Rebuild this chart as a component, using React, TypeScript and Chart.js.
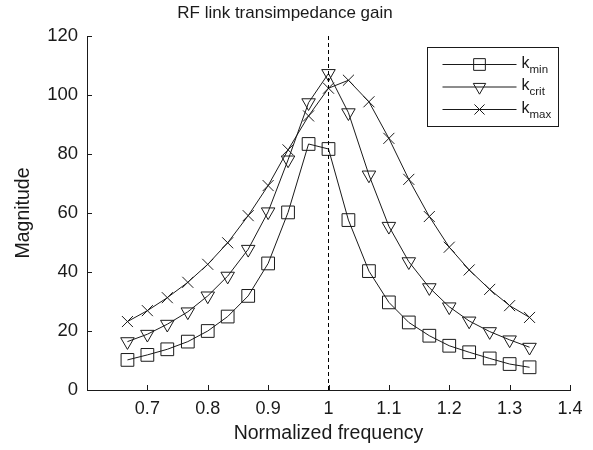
import React, { useEffect, useRef } from 'react';
import { Chart, registerables } from 'chart.js';

Chart.register(...registerables);

const FONT = '"Liberation Sans", Arial, sans-serif';
const INK = '#1a1a1a';

const titleText = 'RF link transimpedance gain';
const xTitle = 'Normalized frequency';
const yTitle = 'Magnitude';

const freq = [0.667, 0.7, 0.733, 0.767, 0.8, 0.833, 0.867, 0.9, 0.933, 0.967, 1.0, 1.033, 1.067, 1.1, 1.133, 1.167, 1.2, 1.233, 1.267, 1.3, 1.333];
const kMin = [10.2, 11.9, 13.8, 16.4, 20.0, 24.9, 31.9, 42.9, 60.2, 83.4, 81.7, 57.6, 40.3, 29.7, 22.9, 18.4, 15.0, 12.8, 10.7, 8.8, 7.7];
const kCrit = [16.4, 18.9, 22.3, 26.5, 31.9, 38.6, 47.7, 60.4, 78.0, 97.4, 107.3, 94.0, 72.9, 55.5, 43.5, 34.7, 28.2, 23.4, 19.8, 17.0, 14.5];
const kMax = [23.2, 26.9, 31.3, 36.5, 42.6, 49.9, 59.1, 69.3, 81.4, 92.9, 102.3, 105.0, 97.7, 85.3, 71.4, 58.8, 48.4, 40.7, 34.1, 28.6, 24.6];

const legendBase = ['k', 'k', 'k'];
const legendSub = ['min', 'crit', 'max'];

const resonance = 1;
const xRange = [0.6, 1.4];
const yRange = [0, 120];

const toPoints = (ys: number[]) => freq.map((x, i) => ({ x, y: ys[i] }));

function drawMarker(ctx: CanvasRenderingContext2D, style: string, r: number, rot: number, x: number, y: number) {
  ctx.save();
  ctx.strokeStyle = INK;
  ctx.lineWidth = 1;
  ctx.beginPath();
  if (style === 'rect') {
    const s = Math.SQRT1_2 * r;
    ctx.rect(x - s, y - s, 2 * s, 2 * s);
  } else if (style === 'triangle') {
    let rad = (rot * Math.PI) / 180;
    ctx.moveTo(x + Math.sin(rad) * r, y - Math.cos(rad) * r);
    rad += (2 * Math.PI) / 3;
    ctx.lineTo(x + Math.sin(rad) * r, y - Math.cos(rad) * r);
    rad += (2 * Math.PI) / 3;
    ctx.lineTo(x + Math.sin(rad) * r, y - Math.cos(rad) * r);
    ctx.closePath();
  } else if (style === 'crossRot') {
    const o = Math.SQRT1_2 * r;
    ctx.moveTo(x - o, y - o);
    ctx.lineTo(x + o, y + o);
    ctx.moveTo(x - o, y + o);
    ctx.lineTo(x + o, y - o);
  }
  ctx.stroke();
  ctx.restore();
}

const overlayPlugin = {
  id: 'overlay',
  afterDatasetsDraw(chart: any) {
    const ctx = chart.ctx;
    const xs = chart.scales.x;
    const ys = chart.scales.y;
    const area = chart.chartArea;
    ctx.save();
    // inward tick marks
    ctx.strokeStyle = INK;
    ctx.lineWidth = 1;
    ctx.beginPath();
    xs.ticks.forEach((t: any) => {
      const px = Math.round(xs.getPixelForValue(t.value)) + 0.5;
      ctx.moveTo(px, area.bottom);
      ctx.lineTo(px, area.bottom - 5);
    });
    ys.ticks.forEach((t: any) => {
      const py = Math.round(ys.getPixelForValue(t.value)) + 0.5;
      ctx.moveTo(area.left, py);
      ctx.lineTo(area.left + 5, py);
    });
    ctx.stroke();

    // legend
    const boxW = 131;
    const boxH = 79;
    const bx = Math.round(area.right - 12 - boxW) + 0.5;
    const by = Math.round(area.top + 11) + 0.5;
    ctx.fillStyle = '#fff';
    ctx.fillRect(bx, by, boxW, boxH);
    ctx.strokeStyle = INK;
    ctx.lineWidth = 1;
    ctx.strokeRect(bx, by, boxW, boxH);
    const datasets = chart.data.datasets.filter((d: any) => d.inLegend);
    datasets.forEach((d: any, i: number) => {
      const rowY = by + 17 + i * 22.5;
      ctx.strokeStyle = INK;
      ctx.lineWidth = 1;
      ctx.beginPath();
      ctx.moveTo(bx + 15, rowY);
      ctx.lineTo(bx + 89, rowY);
      ctx.stroke();
      drawMarker(ctx, d.pointStyle, d.pointRadius * 0.92, d.pointRotation || 0, bx + 52, rowY);
      ctx.fillStyle = INK;
      ctx.textBaseline = 'alphabetic';
      ctx.textAlign = 'left';
      ctx.font = `16px ${FONT}`;
      ctx.fillText(legendBase[i], bx + 94, rowY + 3);
      const kw = ctx.measureText(legendBase[i]).width;
      ctx.font = `11.5px ${FONT}`;
      ctx.fillText(legendSub[i], bx + 94 + kw, rowY + 8);
    });
    ctx.restore();
  },
};

export default function App() {
  const ref = useRef<HTMLCanvasElement | null>(null);

  useEffect(() => {
    document.body.style.margin = '0';
    const canvas = ref.current;
    if (!canvas) return;
    const common = {
      borderColor: INK,
      borderWidth: 1,
      pointBorderColor: INK,
      pointBackgroundColor: 'rgba(0,0,0,0)',
      pointBorderWidth: 1,
      tension: 0,
      fill: false,
      inLegend: true,
    };
    const chart = new Chart(canvas, {
      type: 'line',
      data: {
        datasets: [
          {
            label: 'dashed',
            data: [
              { x: resonance, y: yRange[0] },
              { x: resonance, y: yRange[1] },
            ],
            borderColor: '#000',
            borderWidth: 1,
            borderDash: [4, 3],
            pointRadius: 0,
            inLegend: false,
          } as any,
          { ...common, label: 'k_min', data: toPoints(kMin), pointStyle: 'rect', pointRadius: 9 } as any,
          { ...common, label: 'k_crit', data: toPoints(kCrit), pointStyle: 'triangle', pointRotation: 180, pointRadius: 7.8 } as any,
          { ...common, label: 'k_max', data: toPoints(kMax), pointStyle: 'crossRot', pointRadius: 7.8 } as any,
        ],
      },
      options: {
        animation: false,
        responsive: false,
        maintainAspectRatio: false,
        layout: { padding: { left: 0, right: 23, top: 0, bottom: 0 } },
        plugins: {
          legend: { display: false },
          tooltip: { enabled: false },
          title: {
            display: true,
            text: titleText,
            color: INK,
            font: { family: FONT, size: 17, weight: 'normal' },
            padding: { top: 3, bottom: 12.6 },
          },
        },
        scales: {
          x: {
            type: 'linear',
            min: xRange[0],
            max: xRange[1],
            ticks: {
              stepSize: 0.1,
              color: INK,
              font: { family: FONT, size: 18 },
              padding: 8,
              maxRotation: 0,
              autoSkip: false,
              callback: (v: any) => (v < 0.65 ? '' : String(parseFloat(Number(v).toFixed(2)))),
            },
            grid: { drawOnChartArea: false, drawTicks: false },
            border: { color: INK, width: 1 },
            title: {
              display: true,
              text: xTitle,
              color: INK,
              font: { family: FONT, size: 19.5 },
              padding: { top: 0, bottom: 5 },
            },
            afterFit: (s: any) => {
              s.height = 60;
            },
          },
          y: {
            min: yRange[0],
            max: yRange[1],
            ticks: {
              stepSize: 20,
              color: INK,
              font: { family: FONT, size: 18.5 },
              padding: 9,
            },
            grid: { drawOnChartArea: false, drawTicks: false },
            border: { color: INK, width: 1 },
            title: {
              display: true,
              text: yTitle,
              color: INK,
              font: { family: FONT, size: 19.5 },
              padding: { top: 11.5, bottom: 0 },
            },
            afterFit: (s: any) => {
              s.width = 87;
            },
          },
        },
      } as any,
      plugins: [overlayPlugin],
    });
    return () => chart.destroy();
  }, []);

  return (
    <div style={{ width: 593, height: 450, background: '#fff' }}>
      <canvas ref={ref} width={593} height={450} style={{ width: 593, height: 450 }} />
    </div>
  );
}
